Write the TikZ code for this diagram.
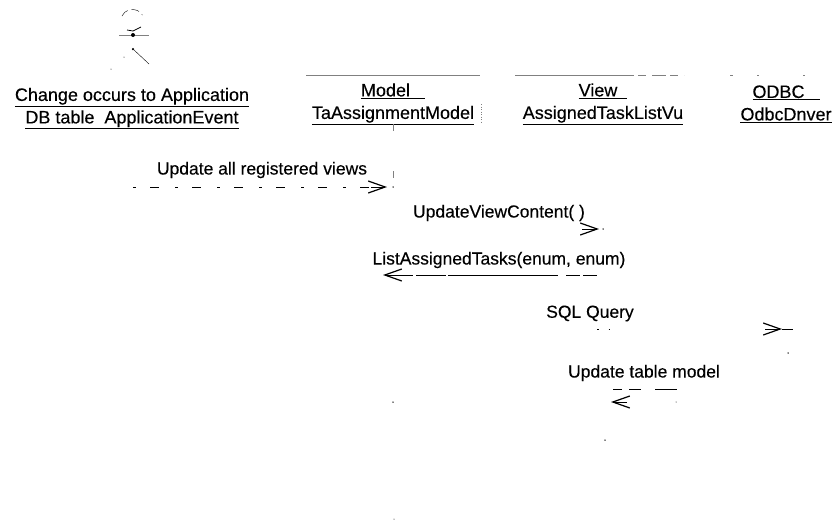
\documentclass[tikz,border=0pt]{standalone}
\usepackage{fontspec}
\setmainfont{Liberation Sans}[FakeBold=0.25]
\usetikzlibrary{arrows.meta}
\tikzset{
  objlabel/.style={align=center,font=\fontsize{18}{22.5}\selectfont,inner sep=0pt},
  msglabel/.style={font=\fontsize{17.5}{20}\selectfont,inner sep=0pt},
  msgline/.style={line width=0.5pt,dash pattern=on 3pt off 14pt on 9pt off 16pt},
  msgtip/.style={-{Straight Barb[length=17pt,width=12pt,line width=1.2pt]},line width=0.6pt},
  faint/.style={gray,line width=0.5pt},
  speck/.style={fill=black,inner sep=0pt,minimum size=1.5pt,circle}
}
\newcommand{\ul}[1]{\underline{#1}}
\begin{document}
\begin{tikzpicture}[x=1pt,y=-1pt]
\useasboundingbox (0,0) rectangle (834,520);
\draw [thin,dash pattern=on 8pt off 4pt] (122,16) arc [start angle=-155,end angle=-30,radius=11.5];
\draw [thick] (127,30) -- (133,31) -- (141,27);
\draw [faint] (119,35) -- (149,35);
\node [speck,minimum size=4pt] (actorbody) at (133,35) {};
\node [speck,minimum size=2.5pt] (actorhip) at (133,49) {};
\coordinate (actorfoot) at (149,64);
\draw (actorhip) -- (actorfoot);
\node [speck,minimum size=1pt] (actorhand) at (124,57) {};
\node [speck,minimum size=1pt] (actortoe) at (111,69) {};
\node [objlabel] (event) at (132,108.5) {\ul{Change occurs to Application}\\\ul{DB table \ ApplicationEvent}};
\node [objlabel] (model) at (393,104) {\ul{Model\ \ \ }\\\ul{TaAssignmentModel}};
\node [objlabel] (view) at (603,104) {\ul{View\ \ }\\\ul{AssignedTaskListVu}};
\node [objlabel] (odbc) at (786,104) {\ul{ODBC\ \ \ }\\\ul{OdbcDnver}};
\draw [faint] (306,75) -- (480,75);
\draw [faint] (515,75) -- (620,75);
\draw [faint,dash pattern=on 14pt off 4pt on 8pt off 6pt] (620,75) -- (684,75);
\draw [faint,dash pattern=on 3pt off 24pt on 2pt off 44pt] (730,75) -- (805,75);
\draw [faint,dash pattern=on 7pt off 40pt] (393,124) -- (393,180);
\draw [faint,dash pattern=on 1pt off 1.5pt] (481,104) -- (481,124);
\node [msglabel] (update) at (262,170) {Update all registered views};
\coordinate (updatea) at (133,187);
\coordinate (updateb) at (371,187);
\coordinate (updatec) at (387,187);
\draw [msgline] (updatea) -- (updateb);
\draw [msgtip] (updateb) -- (updatec);
\node [speck] (updated) at (393,187) {};
\node [msglabel] (content) at (499,213) {UpdateViewContent( )};
\coordinate (contenta) at (582,229);
\coordinate (contentb) at (599,229);
\draw [msgtip] (contenta) -- (contentb);
\node [speck] (contentd) at (603,229) {};
\node [msglabel] (list) at (499,260) {ListAssignedTasks(enum, enum)};
\coordinate (lista) at (597,275);
\coordinate (listb) at (399,275);
\draw [line width=0.4pt,dash pattern=on 14pt off 3pt on 30pt off 2pt on 110pt off 8pt] (listb) -- (lista);
\draw [msgtip] (listb) -- (383,275);
\node [msglabel] (query) at (590,313.5) {SQL Query};
\coordinate (querya) at (597,329);
\coordinate (queryb) at (765,329);
\coordinate (queryc) at (782,329);
\coordinate (queryd) at (793,329);
\draw [line width=1pt,dash pattern=on 1.5pt off 10pt] (querya) -- ++(14,0);
\draw [msgtip] (queryb) -- (queryc);
\draw [line width=0.8pt] (queryc) -- (queryd);
\node [msglabel] (table) at (644,373) {Update table model};
\coordinate (tablea) at (677,389);
\coordinate (tableb) at (613,389);
\draw [line width=0.4pt,dash pattern=on 9pt off 7pt on 12pt off 14pt on 22pt] (tableb) -- (tablea);
\coordinate (tablec) at (627,402);
\coordinate (tabled) at (611,402);
\draw [msgtip] (tablec) -- (tabled);
\node [speck] (specka) at (393,402) {};
\node [speck] (speckb) at (605,440) {};
\node [speck] (speckc) at (788,353) {};
\node [speck,minimum size=1pt] (speckd) at (394,519) {};
\node [speck,minimum size=1pt] (tablee) at (676,402) {};
\end{tikzpicture}
\end{document}
